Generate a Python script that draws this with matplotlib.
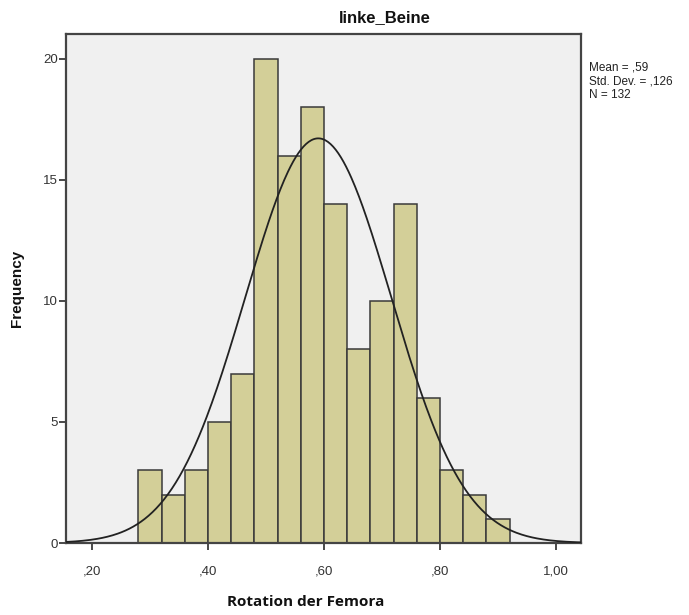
import numpy as np
import matplotlib
matplotlib.use("Agg")
import matplotlib.pyplot as plt

# Data
bin_edges = [0.28, 0.32, 0.36, 0.40, 0.44, 0.48, 0.52, 0.56, 0.60, 0.64,
             0.68, 0.72, 0.76, 0.80, 0.84, 0.88, 0.92]
counts = [3, 2, 3, 5, 7, 20, 16, 18, 14, 8, 10, 14, 6, 3, 2, 1]
mean = 0.59
std = 0.126
n = 132
x_ticks = [0.2, 0.4, 0.6, 0.8, 1.0]
x_tick_labels = [",20", ",40", ",60", ",80", "1,00"]
y_ticks = [0, 5, 10, 15, 20]

W, H = 689, 615
fig = plt.figure(figsize=(W / 100, H / 100), dpi=100)
ax = fig.add_axes([66 / W, 1 - 543 / H, (581 - 66) / W, (543 - 34) / H])
ax.set_facecolor("#f0f0f0")

lefts = np.array(bin_edges[:-1])
widths = np.diff(bin_edges)
ax.bar(lefts, counts, width=widths, align="edge", color="#d3cf98",
       edgecolor="#3a3a3a", linewidth=1.1, zorder=2)

bw = widths.mean()
xs = np.linspace(0.155, 1.043, 400)
ys = n * bw / (std * np.sqrt(2 * np.pi)) * np.exp(-0.5 * ((xs - mean) / std) ** 2)
ax.plot(xs, ys, color="#222222", linewidth=1.3, zorder=3)

ax.set_xlim(0.155, 1.043)
ax.set_ylim(0, 21.03)
ax.set_xticks(x_ticks)
ax.set_xticklabels(x_tick_labels)
ax.set_yticks(y_ticks)
ax.tick_params(axis="both", direction="out", length=5, width=1.3,
               color="#3a3a3a", labelcolor="#333333", labelsize=9.5)
for lab in ax.get_xticklabels() + ax.get_yticklabels():
    lab.set_family("Liberation Sans")
ax.tick_params(axis="x", pad=11)
ax.tick_params(axis="y", pad=1)
for s in ax.spines.values():
    s.set_color("#444444")
    s.set_linewidth(1.6)

fig.text(385 / W, 1 - 18 / H, "linke_Beine", ha="center", va="center",
         fontsize=12, fontweight="bold", family="Liberation Sans", color="#111111")
fig.text(306 / W, 1 - 602 / H, "Rotation der Femora", ha="center", va="center",
         fontsize=11, fontweight="bold", family="Open Sans", color="#111111")
fig.text(17 / W, 1 - 288 / H, "Frequency", ha="center", va="center", rotation=90,
         fontsize=11, fontweight="bold", family="Liberation Sans", color="#111111")

stats = ["Mean = ,59", "Std. Dev. = ,126", "N = 132"]
for i, s in enumerate(stats):
    fig.text(589 / W, 1 - (68 + 13.5 * i) / H, s, ha="left", va="center",
             fontsize=8.5, family="Liberation Sans", color="#222222")

fig.savefig("out.png", dpi=100, facecolor="white")
